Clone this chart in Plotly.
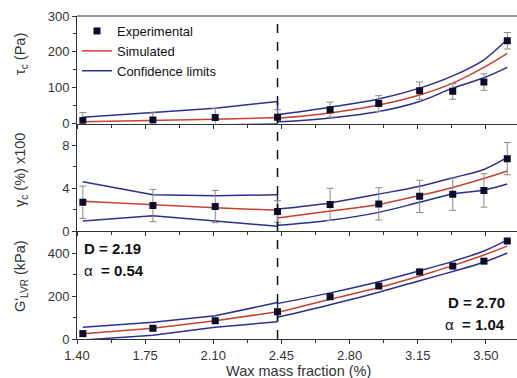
import plotly.graph_objects as go
from plotly.subplots import make_subplots

# ---------------- data ----------------
x_exp = [1.43, 1.79, 2.11, 2.43, 2.70, 2.95, 3.16, 3.33, 3.49, 3.61]
tau_exp = [9, 10, 17, 18, 39, 56, 92, 90, 116, 231]
tau_err = [22, 20, 26, 21, 21, 22, 24, 22, 23, 23]
gam_exp = [2.7, 2.4, 2.3, 1.85, 2.5, 2.55, 3.25, 3.45, 3.8, 6.75]
gam_err = [1.5, 1.5, 1.5, 1.0, 1.5, 1.5, 1.5, 1.5, 1.55, 1.5]
g_exp = [25, 50, 85, 127, 197, 247, 313, 340, 363, 457]
g_err = [12, 12, 12, 12, 8, 8, 10, 10, 10, 10]

x_left = [1.43, 1.79, 2.11, 2.43]
x_right = [2.43, 2.70, 2.95, 3.16, 3.33, 3.49, 3.61]

tau_sim_l = [5, 8, 12, 17]
tau_up_l = [18, 31, 43, 62]
tau_lo_l = [-12, -8, -4, 0]
tau_sim_r = [15, 30, 52, 80, 113, 157, 196]
tau_up_r = [25, 46, 69, 99, 133, 178, 235]
tau_lo_r = [5, 16, 34, 62, 99, 128, 157]

gam_sim_l = [2.8, 2.45, 2.2, 1.95]
gam_up_l = [4.6, 3.4, 3.3, 3.4]
gam_lo_l = [0.95, 1.45, 0.95, 0.47]
gam_sim_r = [1.24, 1.89, 2.5, 3.33, 4.08, 4.9, 5.6]
gam_up_r = [2.07, 2.64, 3.46, 4.18, 4.97, 5.75, 6.86]
gam_lo_r = [0.56, 1.04, 1.76, 2.7, 3.46, 3.84, 4.4]

g_sim_l = [25, 50, 85, 127]
g_up_l = [55, 78, 108, 170]
g_lo_l = [-5, 18, 55, 80]
g_sim_r = [124, 185, 240, 294, 342, 392, 433]
g_up_r = [165, 215, 267, 318, 362, 410, 462]
g_lo_r = [101, 160, 218, 272, 315, 358, 401]

x_ticks = [1.40, 1.75, 2.10, 2.45, 2.80, 3.15, 3.50]
x_tick_text = ["1.40", "1.75", "2.10", "2.45", "2.80", "3.15", "3.50"]
transition_x = 2.43

# ---------------- style ----------------
RED = "#c8412f"
BLUE = "#2c2f8f"
MK = "#0b0b2a"
ERR = "#8a8a8a"
AX = "#333333"
FONT = "Arial, Liberation Sans, sans-serif"

fig = make_subplots(rows=3, cols=1, shared_xaxes=True, vertical_spacing=0)

panels = [
    (tau_exp, tau_err, tau_sim_l, tau_up_l, tau_lo_l, tau_sim_r, tau_up_r, tau_lo_r),
    (gam_exp, gam_err, gam_sim_l, gam_up_l, gam_lo_l, gam_sim_r, gam_up_r, gam_lo_r),
    (g_exp, g_err, g_sim_l, g_up_l, g_lo_l, g_sim_r, g_up_r, g_lo_r),
]

for i, (ye, er, sl, ul, ll, sr, ur, lr) in enumerate(panels):
    row = i + 1
    for xs, ys, shp in [(x_left, ul, "linear"), (x_left, ll, "linear"),
                        (x_right, ur, "spline"), (x_right, lr, "spline")]:
        fig.add_trace(go.Scatter(x=xs, y=ys, mode="lines", line=dict(color=BLUE, width=1.5, shape=shp),
                                 name="Confidence limits", showlegend=False), row=row, col=1)
    fig.add_trace(go.Scatter(x=[x_left[-1], x_left[-1]], y=[ul[-1], ll[-1]], mode="lines",
                             line=dict(color=BLUE, width=1.5), showlegend=False), row=row, col=1)
    for xs, ys, shp in [(x_left, sl, "linear"), (x_right, sr, "spline")]:
        fig.add_trace(go.Scatter(x=xs, y=ys, mode="lines", line=dict(color=RED, width=1.5, shape=shp),
                                 name="Simulated", showlegend=False), row=row, col=1)
    fig.add_trace(go.Scatter(x=x_exp, y=ye, mode="markers", name="Experimental",
                             marker=dict(symbol="square", size=7, color=MK),
                             error_y=dict(type="data", array=er, color=ERR, thickness=1, width=3.5),
                             showlegend=False), row=row, col=1)

# legend entries
fig.add_trace(go.Scatter(x=[None], y=[None], mode="markers", name="Experimental",
                         marker=dict(symbol="square", size=7, color=MK)), row=1, col=1)
fig.add_trace(go.Scatter(x=[None], y=[None], mode="lines", name="Simulated",
                         line=dict(color=RED, width=1.5)), row=1, col=1)
fig.add_trace(go.Scatter(x=[None], y=[None], mode="lines", name="Confidence limits",
                         line=dict(color=BLUE, width=1.5)), row=1, col=1)

xcommon = dict(range=[1.40, 3.66], tickvals=x_ticks, ticktext=x_tick_text, ticks="outside", ticklen=4,
               tickcolor=AX, showline=True, linecolor=AX, linewidth=1, showgrid=False, zeroline=False,
               minor=dict(tickvals=[1.575, 1.925, 2.275, 2.625, 2.975, 3.325], ticks="outside",
                          ticklen=3, tickcolor=AX),
               tickfont=dict(size=13, color=AX, family=FONT))
for r in (1, 2, 3):
    fig.update_xaxes(**xcommon, row=r, col=1)
fig.update_xaxes(showticklabels=False, row=1, col=1)
fig.update_xaxes(showticklabels=False, row=2, col=1)

ycommon = dict(ticks="outside", ticklen=4, tickcolor=AX, showline=True, linecolor=AX, linewidth=1,
               showgrid=False, zeroline=False, tickfont=dict(size=13, color=AX, family=FONT))
fig.update_yaxes(**ycommon, range=[0, 300], tickvals=[0, 100, 200, 300],
                 minor=dict(tickvals=[50, 150, 250], ticks="outside", ticklen=3, tickcolor=AX), row=1, col=1)
fig.update_yaxes(**ycommon, range=[0, 10], tickvals=[0, 4, 8],
                 minor=dict(tickvals=[2, 6, 10], ticks="outside", ticklen=3, tickcolor=AX), row=2, col=1)
fig.update_yaxes(**ycommon, range=[0, 502], tickvals=[0, 200, 400],
                 minor=dict(tickvals=[100, 300], ticks="outside", ticklen=3, tickcolor=AX), row=3, col=1)

W, H = 517, 378
ml, mr, mt, mb = 77, 0, 16, 39
pw = W - ml - mr
ph = H - mt - mb


def px_to_paper_x(px):
    return (px - ml) / pw


def px_to_paper_y(py):
    return 1 - (py - mt) / ph


anns = []
for text, py in [("τ<sub>c</sub> (Pa)", 54), ("γ<sub>c</sub> (%) x100", 170), ("G'<sub>LVR</sub> (kPa)", 276)]:
    anns.append(dict(text=text, x=px_to_paper_x(21), y=px_to_paper_y(py), textangle=-90, xref="paper",
                     yref="paper", xanchor="center", yanchor="middle", showarrow=False,
                     font=dict(size=14.5, color=AX, family=FONT)))

anns += [
    dict(text="Wax mass fraction (%)", xref="paper", yref="paper", x=px_to_paper_x(298), y=px_to_paper_y(371),
         xanchor="center", yanchor="middle", showarrow=False, font=dict(size=14.5, color=AX, family=FONT)),
    dict(text="<b>D = 2.19</b>", xref="paper", yref="paper", x=px_to_paper_x(82), y=px_to_paper_y(248),
         xanchor="left", yanchor="middle", showarrow=False, font=dict(size=15, color="#111", family=FONT)),
    dict(text="α  <b>= 0.54</b>", xref="paper", yref="paper", x=px_to_paper_x(82), y=px_to_paper_y(270),
         xanchor="left", yanchor="middle", showarrow=False, font=dict(size=15, color="#111", family=FONT)),
    dict(text="<b>D = 2.70</b>", xref="paper", yref="paper", x=px_to_paper_x(507), y=px_to_paper_y(302),
         xanchor="right", yanchor="middle", showarrow=False, font=dict(size=15, color="#111", family=FONT)),
    dict(text="α  <b>= 1.04</b>", xref="paper", yref="paper", x=px_to_paper_x(507), y=px_to_paper_y(324),
         xanchor="right", yanchor="middle", showarrow=False, font=dict(size=15, color="#111", family=FONT)),
]

shapes = [
    dict(type="line", xref="x", yref="paper", x0=transition_x, x1=transition_x, y0=0, y1=1,
         line=dict(color="#111", width=1.5, dash="dash")),
    dict(type="line", xref="paper", yref="paper", x0=0, x1=1, y0=1, y1=1,
         line=dict(color=AX, width=1)),
]

fig.update_layout(
    width=W, height=H, margin=dict(l=ml, r=mr, t=mt, b=mb),
    paper_bgcolor="white", plot_bgcolor="white",
    font=dict(family=FONT, size=13, color=AX),
    annotations=anns, shapes=shapes,
    legend=dict(x=0.0, y=1.0, xanchor="left", yanchor="top", bgcolor="rgba(0,0,0,0)",
                font=dict(size=13, color="#111", family=FONT), tracegroupgap=0, itemwidth=30),
)

fig.write_html("out.html", config={"displayModeBar": False},
               post_script="document.body.style.margin='0';document.body.style.overflow='hidden';")
